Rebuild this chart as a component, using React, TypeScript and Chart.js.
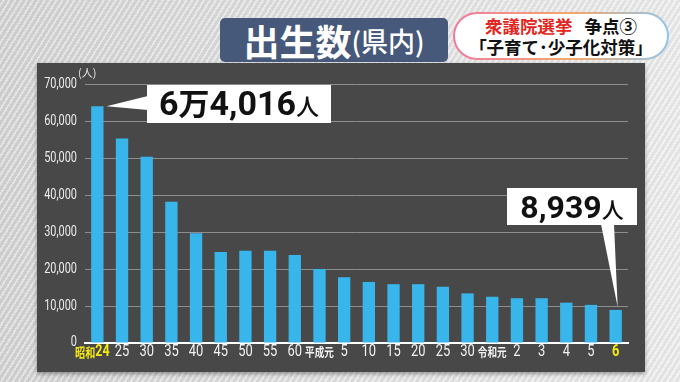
import React, { useEffect, useRef } from "react";
import { Chart, registerables } from "chart.js";

Chart.register(...registerables);

const categories = ["昭和24", "25", "30", "35", "40", "45", "50", "55", "60", "平成元", "5", "10", "15", "20", "25", "30", "令和元", "2", "3", "4", "5", "6"];
const births = [64016, 55300, 50350, 38200, 29650, 24600, 24900, 24900, 23800, 20000, 17800, 16500, 15900, 15900, 15200, 13400, 12500, 12100, 12100, 10900, 10300, 8939];
const yTicks = [0, 10000, 20000, 30000, 40000, 50000, 60000, 70000];
const yTickLabels = ["0", "10,000", "20,000", "30,000", "40,000", "50,000", "60,000", "70,000"];
const highlighted = [0, 21];
const callout1 = ["6", "万", "4,016", "人"];
const callout2 = ["8,939", "人"];

const BAR = "#38b6ec";
const YELLOW = "#f4e812";

function drawParts(ctx: CanvasRenderingContext2D, parts: { t: string; font: string }[], left: number, right: number, baseline: number) {
  let total = 0;
  const widths = parts.map((p) => {
    ctx.font = p.font;
    const w = ctx.measureText(p.t).width;
    total += w;
    return w;
  });
  let x = (left + right) / 2 - total / 2;
  ctx.fillStyle = "#111";
  ctx.textBaseline = "alphabetic";
  ctx.textAlign = "left";
  parts.forEach((p, i) => {
    ctx.font = p.font;
    ctx.fillText(p.t, x, baseline);
    x += widths[i];
  });
}

function condensed(ctx: CanvasRenderingContext2D, parts: { t: string; font: string }[], x: number, y: number, sx: number, align: "center" | "right") {
  let total = 0;
  const widths = parts.map((p) => {
    ctx.font = p.font;
    const w = ctx.measureText(p.t).width;
    total += w;
    return w;
  });
  ctx.save();
  ctx.translate(x, y);
  ctx.scale(sx, 1);
  let cx = align === "center" ? -total / 2 : -total;
  ctx.textAlign = "left";
  ctx.textBaseline = "middle";
  parts.forEach((p, i) => {
    ctx.font = p.font;
    ctx.fillText(p.t, cx, 0);
    cx += widths[i];
  });
  ctx.restore();
}

const labelPlugin = {
  id: "condensedLabels",
  afterDraw(chart: any) {
    const ctx = chart.ctx as CanvasRenderingContext2D;
    const xs = chart.scales.x;
    const ys = chart.scales.y;
    ctx.save();
    ctx.fillStyle = "#ececec";
    yTicks.forEach((v, i) => {
      condensed(ctx, [{ t: yTickLabels[i], font: "14px Roboto" }], 77, ys.getPixelForValue(v) - (v === 0 ? 1 : 0), 0.78, "right");
    });
    categories.forEach((lbl, i) => {
      let x = xs.getPixelForTick(i);
      ctx.fillStyle = highlighted.includes(i) ? YELLOW : "#f2f2f2";
      let parts;
      let sx = 0.76;
      if (lbl.includes("元")) {
        parts = [{ t: lbl, font: "bold 12px 'Noto Sans CJK JP'" }];
        sx = 0.8;
      } else if (/^[^0-9]/.test(lbl)) {
        const m = lbl.match(/^(\D+)(\d+)$/);
        parts = [
          { t: m ? m[1] : lbl, font: "bold 13px 'Noto Sans CJK JP'" },
          { t: m ? m[2] : "", font: "bold 16px Roboto" },
        ];
        sx = 0.78;
        x -= 5;
      } else {
        parts = [{ t: lbl, font: (highlighted.includes(i) ? "bold " : "") + "17px Roboto" }];
      }
      condensed(ctx, parts, x, 352, sx, "center");
    });
    ctx.restore();
  },
};

const calloutPlugin = {
  id: "callouts",
  afterDatasetsDraw(chart: any) {
    const ctx = chart.ctx as CanvasRenderingContext2D;
    const meta = chart.getDatasetMeta(0);
    const first = meta.data[0];
    const last = meta.data[meta.data.length - 1];
    ctx.save();
    ctx.fillStyle = "#e6e6e6";
    ctx.font = "11px 'Noto Sans CJK JP'";
    ctx.textAlign = "left";
    ctx.textBaseline = "middle";
    ctx.fillText("(人)", 78, 73);

    const dig = "bold 34px Roboto";
    const cjk = "bold 31px 'Noto Sans CJK JP'";
    const small = "500 23px 'Noto Sans CJK JP'";

    const b1 = { x: 147, y: 85, w: 184, h: 38 };
    ctx.fillStyle = "#ffffff";
    ctx.fillRect(b1.x, b1.y, b1.w, b1.h);
    ctx.beginPath();
    ctx.moveTo(b1.x + 1, 96);
    ctx.lineTo(first.x + first.width / 2 + 3, first.y);
    ctx.lineTo(b1.x + 1, 110);
    ctx.closePath();
    ctx.fill();
    drawParts(ctx, [
      { t: callout1[0], font: dig },
      { t: callout1[1], font: cjk },
      { t: callout1[2], font: dig },
      { t: callout1[3], font: small },
    ], b1.x, b1.x + b1.w, 115);

    const b2 = { x: 507, y: 188, w: 130, h: 37 };
    ctx.fillStyle = "#ffffff";
    ctx.fillRect(b2.x, b2.y, b2.w, b2.h);
    ctx.beginPath();
    ctx.moveTo(601, b2.y + b2.h - 1);
    ctx.lineTo(last.x + 2, last.y - 3);
    ctx.lineTo(614, b2.y + b2.h - 1);
    ctx.closePath();
    ctx.fill();
    drawParts(ctx, [
      { t: callout2[0], font: "bold 32px Roboto" },
      { t: callout2[1], font: "500 22px 'Noto Sans CJK JP'" },
    ], b2.x, b2.x + b2.w, 218);
    ctx.restore();
  },
};

function BirthChart() {
  const ref = useRef<HTMLCanvasElement | null>(null);
  useEffect(() => {
    if (!ref.current) return;
    const chart = new Chart(ref.current, {
      type: "bar",
      data: {
        labels: categories,
        datasets: [
          {
            data: births,
            backgroundColor: BAR,
            borderWidth: 0,
            barPercentage: 0.5,
            categoryPercentage: 1,
          },
        ],
      },
      options: {
        responsive: false,
        animation: false,
        layout: { padding: { top: 84, right: 52, left: 0, bottom: 0 } },
        plugins: { legend: { display: false }, tooltip: { enabled: false } },
        scales: {
          x: {
            afterFit(scale: any) {
              scale.height = 39;
            },
            grid: { display: false, drawTicks: false },
            border: { color: "#ffffff", width: 2 },
            ticks: { display: false, autoSkip: false },
          },
          y: {
            min: 0,
            max: 70000,
            afterFit(scale: any) {
              scale.width = 85;
            },
            afterBuildTicks(scale: any) {
              scale.ticks = yTicks.map((v) => ({ value: v }));
            },
            border: { display: false },
            grid: { color: "#8e8e8e", lineWidth: 1, drawTicks: false },
            ticks: { display: false },
          },
        },
      },
      plugins: [labelPlugin, calloutPlugin],
    } as any);
    return () => chart.destroy();
  }, []);
  return <canvas ref={ref} width={680} height={382} style={{ position: "absolute", left: 0, top: 0, width: 680, height: 382 }} />;
}

export default function App() {
  return (
    <div
      style={{
        position: "fixed",
        left: 0,
        top: 0,
        width: 680,
        height: 382,
        overflow: "hidden",
        background:
          "repeating-linear-gradient(-58deg, rgba(255,255,255,0.35) 0px, rgba(255,255,255,0.35) 2px, rgba(0,0,0,0.04) 2px, rgba(0,0,0,0.04) 5px), linear-gradient(90deg, #d4d4d4 0%, #e2e2e2 50%, #ececec 100%)",
        fontFamily: "'Noto Sans CJK JP', sans-serif",
      }}
    >
      <div
        style={{
          position: "absolute",
          left: 37,
          top: 63,
          width: 608,
          height: 309,
          background: "#484848",
          boxShadow: "0 2px 4px rgba(0,0,0,0.35)",
        }}
      />
      <div
        style={{
          position: "absolute",
          left: 220,
          top: 18,
          width: 228,
          height: 44,
          background: "#46597a",
          borderRadius: 5,
          color: "#fff",
          display: "flex",
          alignItems: "center",
          justifyContent: "center",
          fontWeight: 700,
          lineHeight: 1,
        }}
      >
        <span style={{ fontSize: 36 }}>出生数</span>
        <span style={{ fontSize: 27, fontWeight: 500 }}>(県内)</span>
      </div>
      <div
        style={{
          position: "absolute",
          left: 453,
          top: 12,
          width: 212,
          height: 44,
          borderRadius: 24,
          border: "2px solid transparent",
          background:
            "linear-gradient(#fff,#fff) padding-box, linear-gradient(90deg, #f07aa0, #f5a86a 55%, #8fc6ee) border-box",
          display: "flex",
          flexDirection: "column",
          alignItems: "center",
          justifyContent: "center",
          fontWeight: 700,
          fontSize: 17.5,
          lineHeight: "21px",
          color: "#111",
        }}
      >
        <div>
          <span style={{ color: "#e3241c" }}>衆議院選挙</span>
          <span style={{ marginLeft: 12 }}>争点③</span>
        </div>
        <div>「子育て･少子化対策」</div>
      </div>
      <BirthChart />
    </div>
  );
}
